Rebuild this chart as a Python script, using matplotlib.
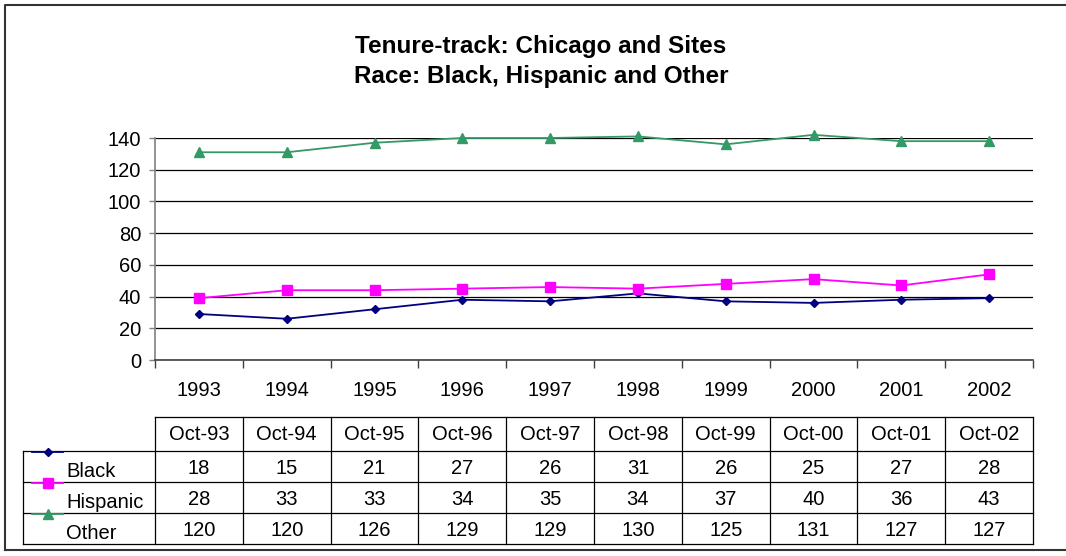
import matplotlib
matplotlib.use("Agg")
import matplotlib.pyplot as plt
from matplotlib.lines import Line2D

plt.rcParams['font.family'] = ['Liberation Sans', 'DejaVu Sans']

years = ['1993', '1994', '1995', '1996', '1997', '1998', '1999', '2000', '2001', '2002']
months = ['Oct-93', 'Oct-94', 'Oct-95', 'Oct-96', 'Oct-97', 'Oct-98', 'Oct-99', 'Oct-00', 'Oct-01', 'Oct-02']
series_names = ['Black', 'Hispanic', 'Other']

# values as plotted
black_plot = [29, 26, 32, 38, 37, 42, 37, 36, 38, 39]
hispanic_plot = [39, 44, 44, 45, 46, 45, 48, 51, 47, 54]
other_plot = [131, 131, 137, 140, 140, 141, 136, 142, 138, 138]

# values as printed in the data table
black_tab = [18, 15, 21, 27, 26, 31, 26, 25, 27, 28]
hispanic_tab = [28, 33, 33, 34, 35, 34, 37, 40, 36, 43]
other_tab = [120, 120, 126, 129, 129, 130, 125, 131, 127, 127]

yticks = [0, 20, 40, 60, 80, 100, 120, 140]

colors = ['#000080', '#FF00FF', '#339966']
markers = ['D', 's', '^']
msizes = [4.5, 6.5, 7]

FS = 14.5
W, H = 1066, 556
fig = plt.figure(figsize=(W / 100, H / 100), dpi=100)

# overlay for frame & table (pixel coordinates)
ov = fig.add_axes([0, 0, 1, 1])
ov.set_xlim(0, W)
ov.set_ylim(H, 0)
ov.axis('off')

# outer frame
ov.add_line(Line2D([5, 5, 1070], [550, 5, 5], color='#333333', lw=1.5))
ov.add_line(Line2D([5, 1070], [550, 550], color='#333333', lw=1.5))

x0, x1 = 155, 1033
ytop, ybot = 138, 360
ax = fig.add_axes([x0 / W, (H - ybot) / H, (x1 - x0) / W, (ybot - ytop) / H])
ax.set_zorder(2)
n = len(years)
xs = list(range(n))
plot_series = [black_plot, hispanic_plot, other_plot]
for vals, c, m, ms in zip(plot_series, colors, markers, msizes):
    ax.plot(xs, vals, color=c, lw=1.3, marker=m, markersize=ms,
            markeredgecolor=c, markerfacecolor=c, zorder=3, clip_on=False)

ax.set_xlim(-0.5, n - 0.5)
ax.set_ylim(0, 140)
ax.set_yticks(yticks)
ax.set_yticklabels([str(v) for v in yticks], fontsize=14.5)
ax.yaxis.grid(True, color='black', lw=0.9)
ax.set_axisbelow(True)
ax.set_xticks([i - 0.5 for i in range(n + 1)])
ax.set_xticklabels([])
ax.set_xticks(xs, minor=True)
ax.set_xticklabels(years, minor=True, fontsize=FS)
ax.tick_params(axis='x', which='major', direction='out', length=6, color='#404040', width=1)
ax.tick_params(axis='x', which='minor', length=0, pad=15)
ax.tick_params(axis='y', direction='out', length=4, color='#808080', width=1, pad=6)
for s in ['top', 'right']:
    ax.spines[s].set_visible(False)
ax.spines['left'].set_color('#808080')
ax.spines['left'].set_linewidth(1.2)
ax.spines['bottom'].set_color('#404040')
ax.spines['bottom'].set_linewidth(1.2)

fig.text(541 / W, 1 - 46 / H, 'Tenure-track: Chicago and Sites', ha='center', va='center',
         fontsize=17.5, fontweight='bold')
fig.text(541 / W, 1 - 77 / H, 'Race: Black, Hispanic and Other', ha='center', va='center',
         fontsize=17.5, fontweight='bold')

# data table
band = (x1 - x0) / n
col_x = [x0 + band * i for i in range(n + 1)]
row_y = [417, 451, 482, 513, 544]
tleft = 23
lc = '#000000'
lw = 0.9
ov.add_line(Line2D([x0, x1], [row_y[0], row_y[0]], color=lc, lw=lw))
for y in row_y[1:]:
    ov.add_line(Line2D([tleft, x1], [y, y], color=lc, lw=lw))
for x in col_x:
    ov.add_line(Line2D([x, x], [row_y[0], row_y[-1]], color=lc, lw=lw))
ov.add_line(Line2D([tleft, tleft], [row_y[1], row_y[-1]], color=lc, lw=lw))

for i, mth in enumerate(months):
    ov.text(col_x[i] + band / 2, (row_y[0] + row_y[1]) / 2 + 1, mth, ha='center', va='center', fontsize=FS)

tab_series = [black_tab, hispanic_tab, other_tab]
for r, (name, vals, c, m, ms) in enumerate(zip(series_names, tab_series, colors, markers, msizes)):
    yc = (row_y[r + 1] + row_y[r + 2]) / 2 + 2
    for i, v in enumerate(vals):
        ov.text(col_x[i] + band / 2, yc, str(v), ha='center', va='center', fontsize=FS)
    ov.text(66, yc + 3, name, ha='left', va='center', fontsize=FS)
    ly = row_y[r + 1] + 1
    ov.add_line(Line2D([32, 63], [ly, ly], color=c, lw=1.3))
    ov.plot([48], [ly], marker=m, color=c, markersize=ms)

fig.savefig('out.png', dpi=100)
